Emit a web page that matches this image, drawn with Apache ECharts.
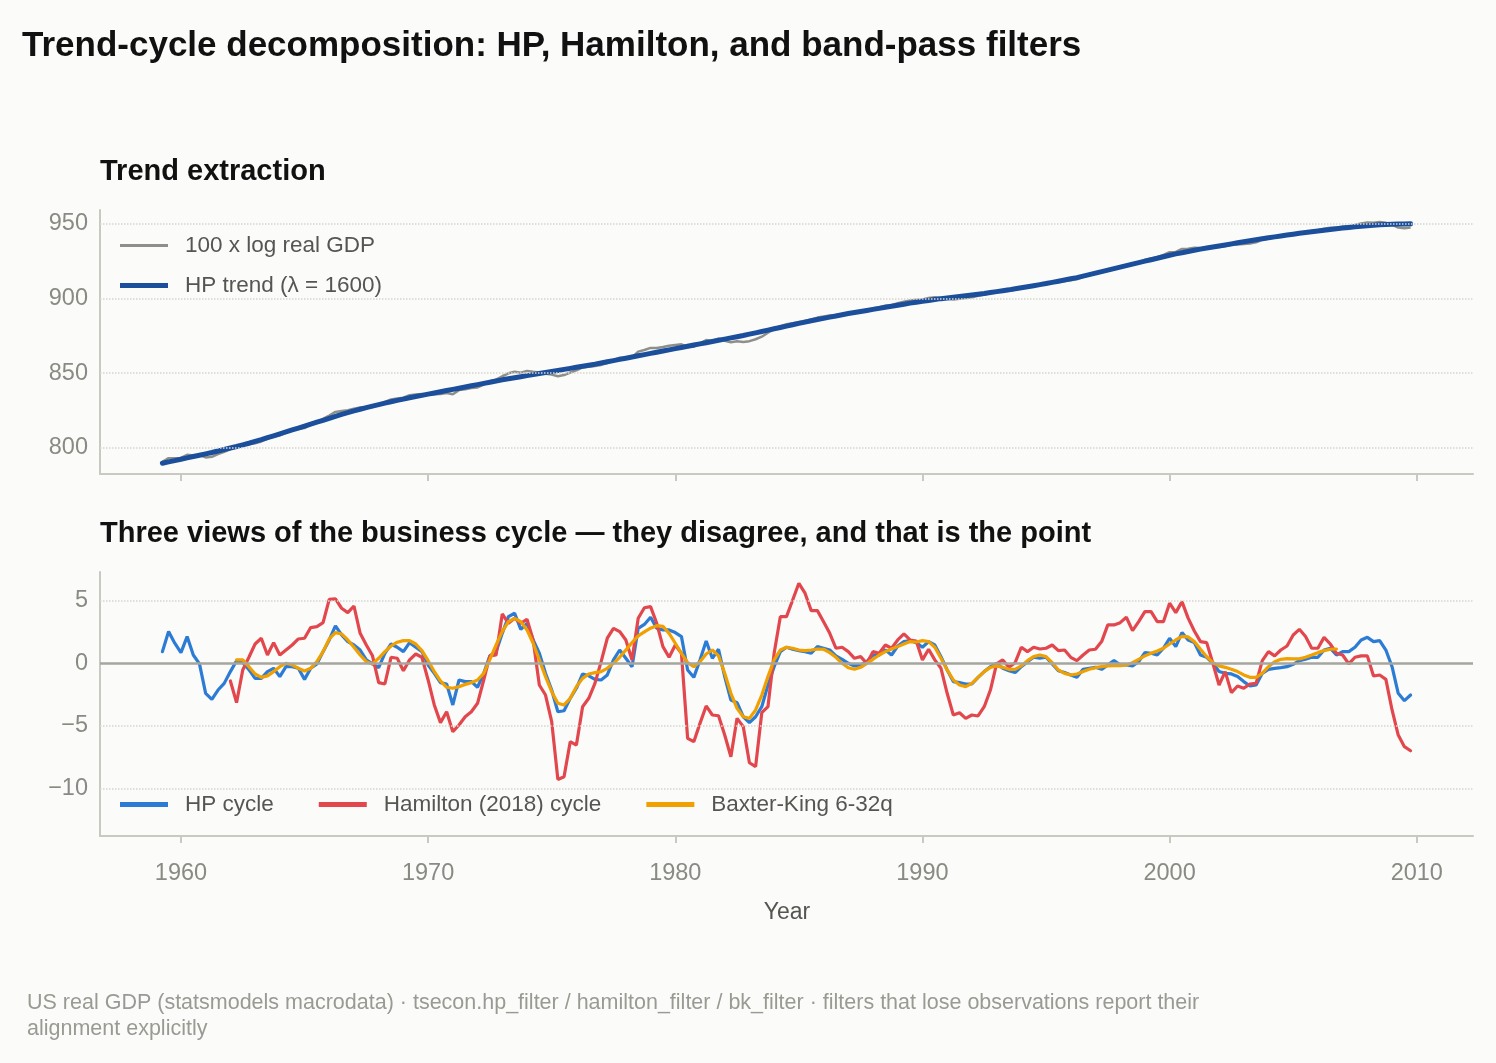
<!DOCTYPE html>
<html>
<head>
<meta charset="utf-8">
<title>Trend-cycle decomposition</title>
<script src="https://cdn.jsdelivr.net/npm/echarts@6/dist/echarts.min.js"></script>
<style>
  html, body { margin: 0; padding: 0; background: #FBFBF9; }
  #chart { width: 1496px; height: 1063px; }
</style>
</head>
<body>
<div id="chart"></div>
<script>
// US real GDP, quarterly 1959Q1 .. 2009Q3 (statsmodels macrodata)
const firstYear = 1959
const quarterCount = 203
const hamiltonOffset = 11   // first quarter with a Hamilton value
const bkOffset = 12         // Baxter-King loses 12 quarters at each end

// 100 x log real GDP
const logGdp = [
  790.5, 793.0, 793.0, 793.2, 795.3, 794.8, 795.0, 793.5, 793.9, 795.7,
  797.2, 799.1, 801.0, 802.0, 802.5, 803.0, 804.2, 806.0, 807.6, 808.2,
  810.3, 811.6, 812.8, 813.2, 815.4, 817.1, 819.3, 821.6, 824.0, 824.6,
  825.2, 826.2, 826.9, 827.2, 827.9, 828.6, 830.7, 832.3, 833.0, 833.5,
  835.2, 835.6, 836.0, 835.8, 835.9, 836.0, 836.7, 835.8, 838.6, 839.2,
  840.0, 840.4, 842.3, 844.5, 845.6, 847.9, 849.9, 850.9, 850.3, 851.5,
  850.9, 850.5, 849.6, 849.0, 847.9, 848.7, 850.4, 851.9, 853.8, 854.3,
  854.7, 855.5, 856.7, 858.7, 860.3, 860.4, 860.5, 864.4, 865.5, 866.9,
  866.8, 867.5, 868.3, 868.9, 869.3, 867.5, 867.7, 869.9, 872.2, 871.6,
  873.1, 871.7, 870.7, 871.3, 870.9, 871.4, 872.7, 874.4, 877.1, 879.4,
  881.5, 882.8, 883.5, 884.3, 885.1, 885.9, 887.2, 887.9, 888.6, 888.9,
  889.4, 889.9, 890.4, 891.2, 892.1, 893.4, 894.1, 895.2, 895.5, 896.9,
  897.9, 898.7, 899.2, 899.4, 900.4, 900.8, 900.4, 899.9, 899.4, 899.9,
  900.3, 900.8, 901.8, 902.7, 903.7, 904.6, 904.8, 905.2, 905.8, 906.9,
  908.0, 909.1, 909.7, 910.5, 910.8, 911.0, 911.7, 912.3, 912.9, 914.5,
  915.6, 916.7, 917.5, 918.9, 920.2, 920.9, 921.9, 922.8, 924.1, 925.9,
  926.8, 927.7, 929.2, 931.0, 931.2, 933.2, 933.4, 934.0, 933.8, 934.3,
  934.5, 934.5, 935.1, 935.8, 936.2, 936.5, 936.9, 937.7, 939.3, 940.2,
  940.9, 941.6, 942.2, 943.0, 943.9, 944.5, 945.2, 945.7, 946.8, 947.4,
  947.4, 948.1, 948.5, 949.3, 950.3, 950.9, 950.8, 951.2, 950.7, 949.5,
  947.5, 947.0, 947.6
]

// HP trend, lambda = 1600
const hpTrend = [
  789.6, 790.5, 791.4, 792.3, 793.2, 794.1, 795.0, 795.9, 796.8, 797.8,
  798.8, 799.8, 800.8, 801.9, 803.0, 804.2, 805.4, 806.7, 808.0, 809.3,
  810.6, 811.9, 813.2, 814.5, 815.8, 817.1, 818.4, 819.7, 821.0, 822.3,
  823.5, 824.7, 825.8, 826.9, 827.9, 828.9, 829.9, 830.8, 831.7, 832.6,
  833.5, 834.3, 835.1, 835.9, 836.7, 837.5, 838.3, 839.1, 839.9, 840.7,
  841.5, 842.3, 843.1, 843.9, 844.7, 845.5, 846.2, 846.9, 847.6, 848.3,
  849.0, 849.7, 850.4, 851.1, 851.8, 852.5, 853.2, 853.9, 854.6, 855.3,
  856.0, 856.8, 857.6, 858.4, 859.2, 860.0, 860.8, 861.6, 862.4, 863.2,
  864.0, 864.8, 865.6, 866.4, 867.2, 868.0, 868.8, 869.6, 870.4, 871.2,
  872.0, 872.8, 873.6, 874.4, 875.2, 876.1, 877.0, 877.9, 878.8, 879.7,
  880.6, 881.5, 882.4, 883.3, 884.2, 885.1, 885.9, 886.7, 887.5, 888.3,
  889.1, 889.9, 890.6, 891.3, 892.0, 892.7, 893.4, 894.1, 894.8, 895.5,
  896.2, 896.9, 897.5, 898.1, 898.7, 899.3, 899.9, 900.4, 900.9, 901.4,
  901.9, 902.4, 902.9, 903.4, 904.0, 904.6, 905.2, 905.8, 906.5, 907.2,
  907.9, 908.6, 909.3, 910.0, 910.8, 911.6, 912.4, 913.2, 914.0, 915.0,
  916.0, 917.0, 918.0, 919.0, 920.0, 921.0, 922.0, 923.0, 924.0, 925.0,
  926.0, 927.0, 928.0, 929.0, 929.9, 930.7, 931.5, 932.3, 933.1, 933.8,
  934.5, 935.2, 935.9, 936.6, 937.3, 938.0, 938.7, 939.4, 940.1, 940.7,
  941.3, 941.9, 942.5, 943.1, 943.7, 944.2, 944.7, 945.2, 945.7, 946.2,
  946.7, 947.2, 947.6, 948.0, 948.4, 948.8, 949.1, 949.4, 949.6, 949.8,
  949.9, 950.0, 950.1
]

// HP cycle (percent deviation from trend)
const hpCycle = [
  0.93, 2.53, 1.6, 0.85, 2.13, 0.66, -0.05, -2.4, -2.87, -2.13,
  -1.6, -0.66, 0.2, 0.05, -0.5, -1.2, -1.2, -0.66, -0.4, -1.06,
  -0.27, -0.27, -0.4, -1.28, -0.4, -0.05, 0.93, 1.86, 2.98, 2.26,
  1.73, 1.46, 1.06, 0.27, -0.05, -0.35, 0.8, 1.54, 1.28, 0.93,
  1.65, 1.28, 0.93, -0.13, -0.8, -1.54, -1.65, -3.32, -1.33, -1.46,
  -1.46, -1.91, -0.8, 0.59, 0.93, 2.39, 3.72, 3.99, 2.71, 3.19,
  1.86, 0.8, -0.8, -2.13, -3.86, -3.78, -2.79, -1.99, -0.85, -1.0,
  -1.28, -1.33, -0.93, 0.27, 1.06, 0.4, -0.27, 2.79, 3.1, 3.67,
  2.79, 2.66, 2.66, 2.45, 2.13, -0.53, -1.12, 0.27, 1.78, 0.4,
  1.12, -1.06, -2.93, -3.14, -4.26, -4.73, -4.26, -3.46, -1.73, -0.27,
  0.93, 1.28, 1.12, 1.01, 0.93, 0.8, 1.33, 1.2, 1.06, 0.59,
  0.32, 0, -0.21, -0.13, 0.13, 0.66, 0.66, 1.06, 0.66, 1.38,
  1.73, 1.81, 1.65, 1.28, 1.73, 1.46, 0.53, -0.53, -1.46, -1.54,
  -1.65, -1.65, -1.12, -0.66, -0.27, 0, -0.4, -0.59, -0.74, -0.27,
  0.13, 0.48, 0.4, 0.48, -0.05, -0.59, -0.74, -0.93, -1.12, -0.48,
  -0.4, -0.32, -0.48, -0.13, 0.21, -0.13, -0.13, -0.21, 0.13, 0.85,
  0.8, 0.66, 1.2, 2.0, 1.33, 2.45, 1.85, 1.65, 0.66, 0.48,
  0, -0.66, -0.8, -0.85, -1.06, -1.46, -1.81, -1.73, -0.8, -0.48,
  -0.4, -0.35, -0.27, -0.08, 0.21, 0.32, 0.48, 0.48, 1.06, 1.2,
  0.66, 0.93, 0.93, 1.28, 1.86, 2.07, 1.73, 1.81, 1.06, -0.27,
  -2.39, -2.98, -2.53
]

// Hamilton (2018) regression cycle, starts 1961Q4
const hamiltonCycle = [
  -1.41, -3.14, -0.53, 0.48, 1.54, 2.0, 0.66, 1.65, 0.66,
  1.06, 1.46, 1.94, 2.0, 2.85, 2.93, 3.24, 5.1, 5.13, 4.39,
  4.04, 4.57, 2.39, 1.46, 0.6, -1.54, -1.65, 0.48, 0.4, -0.59,
  0.27, 0.74, 0.48, -1.33, -3.32, -4.73, -3.86, -5.45, -4.92, -4.26,
  -3.86, -3.19, -1.33, 0.59, 0.66, 3.94, 3.19, 3.59, 3.19, 3.51,
  1.86, -1.73, -2.53, -4.65, -9.26, -9.04, -6.25, -6.52, -3.46, -2.79,
  -1.6, 0.13, 2.0, 2.79, 2.53, 1.86, 0.27, 3.59, 4.43, 4.52,
  3.19, 1.33, 0.48, 1.46, 0.8, -5.98, -6.25, -4.79, -3.4, -4.12,
  -4.18, -5.72, -7.45, -4.39, -5.05, -7.93, -8.24, -3.94, -3.46, 0.8,
  3.72, 3.72, 5.05, 6.38, 5.59, 4.2, 4.2, 3.32, 2.39, 1.2,
  1.28, 0.93, 0.4, 0.53, 0, 0.93, 0.8, 1.46, 1.2, 1.86,
  2.34, 1.86, 1.78, 0.27, 1.12, 0.27, -0.4, -2.39, -4.12, -3.94,
  -4.39, -4.12, -4.2, -3.46, -2.13, -0.05, 0.27, -0.32, 0.05, 1.28,
  0.93, 1.28, 1.14, 1.2, 1.46, 1.01, 1.06, 0.48, 0.21, 0.66,
  1.06, 1.12, 1.73, 3.06, 3.06, 3.24, 3.67, 2.61, 3.32, 4.12,
  4.12, 3.32, 3.32, 4.79, 4.04, 4.92, 3.6, 2.58, 1.73, 1.65,
  0, -1.73, -0.66, -2.34, -1.81, -1.99, -1.65, -1.6, 0.21, 0.93,
  0.59, 1.06, 1.38, 2.26, 2.71, 2.13, 1.2, 1.2, 2.07, 1.54,
  0.8, 0.66, -0.05, 0.48, 0.59, 0.59, -1.01, -0.93, -1.28, -3.72,
  -5.72, -6.65, -6.97
]

// Baxter-King band-pass (6-32 quarters), 1962Q1 .. 2006Q3
const bkCycle = [
  0.27, 0.27, -0.27, -0.85, -1.12, -1.0, -0.66, -0.27,
  0, -0.13, -0.4, -0.61, -0.4, 0.13, 0.93, 1.94, 2.45, 2.34,
  1.86, 1.28, 0.66, 0.13, -0.05, 0.4, 0.93, 1.38, 1.68, 1.81,
  1.81, 1.54, 1.01, 0.21, -0.66, -1.41, -1.91, -1.99, -1.86, -1.68,
  -1.54, -1.33, -0.8, 0.32, 1.46, 2.53, 3.32, 3.59, 3.32, 2.66,
  1.6, 0.27, -1.06, -2.26, -3.19, -3.32, -2.79, -1.86, -1.2, -0.85,
  -0.74, -0.66, -0.4, 0, 0.48, 1.06, 1.65, 2.18, 2.5, 2.8,
  3.0, 2.95, 2.39, 1.6, 0.8, 0.05, -0.27, 0.13, 0.74, 1.06,
  0.59, -0.8, -2.39, -3.59, -4.26, -4.39, -3.72, -2.53, -1.06, 0.27,
  1.06, 1.28, 1.2, 1.06, 1.01, 1.06, 1.14, 1.12, 0.85, 0.48,
  0, -0.35, -0.48, -0.32, 0, 0.32, 0.66, 0.93, 1.14, 1.33,
  1.54, 1.73, 1.7, 1.81, 1.73, 1.28, 0.4, -0.53, -1.33, -1.73,
  -1.86, -1.6, -1.12, -0.66, -0.32, -0.21, -0.32, -0.48, -0.48, -0.21,
  0.21, 0.53, 0.66, 0.53, 0.05, -0.53, -0.8, -0.93, -0.85, -0.66,
  -0.48, -0.35, -0.27, -0.21, -0.19, -0.19, -0.13, 0.05, 0.32, 0.59,
  0.8, 0.98, 1.2, 1.54, 1.86, 2.15, 2.1, 1.73, 1.12, 0.53,
  0.05, -0.21, -0.32, -0.48, -0.66, -0.93, -1.12, -1.12, -0.8, -0.27,
  0.13, 0.32, 0.37, 0.35, 0.35, 0.48, 0.66, 0.85, 1.01, 1.12,
  1.14
]

const decadeTicks = [1960, 1970, 1980, 1990, 2000, 2010]
const levelTicks = [800, 850, 900, 950]
const cycleTicks = [-10, -5, 5]

// quarter-end dates as decimal years
const dates = []
for (let i = 0; i < quarterCount; i++) dates.push(firstYear + (i + 1) / 4)

const pairs = (values, offset = 0) => values.map((v, i) => [dates[i + offset], v])

const FONT = '"Liberation Sans", Arial, Helvetica, sans-serif'
const AXIS_COLOR = '#C9C9C1'
const LABEL_COLOR = '#8A8A84'
const TEXT_COLOR = '#555552'
const gridLine = { type: 'dotted', color: '#D6D6D0', width: 1.5 }
const minus = v => (v < 0 ? '\u2212' + Math.abs(v) : String(v))

// legend swatches: flat bars instead of line + symbol
const thickSwatch = 'path://M0 0H48V5H0Z'
const thinSwatch = 'path://M0 0H48V3H0Z'

const xAxisBase = (gridIndex, showLabels) => ({
  gridIndex,
  type: 'value',
  min: 1956.725,
  max: 2012.275,
  axisLine: { show: true, onZero: false, lineStyle: { color: AXIS_COLOR, width: 2 } },
  axisTick: { show: true, customValues: decadeTicks, length: 7, lineStyle: { color: AXIS_COLOR, width: 2 } },
  axisLabel: {
    show: showLabels, customValues: decadeTicks, formatter: v => String(v),
    color: LABEL_COLOR, fontSize: 23.5, fontFamily: FONT, margin: 26
  },
  splitLine: { show: false }
})

const yLabel = {
  color: LABEL_COLOR, fontSize: 23.5, fontFamily: FONT, margin: 12, padding: [4, 0, 0, 0]
}

const chart = echarts.init(document.getElementById('chart'))

const option = {
  backgroundColor: '#FBFBF9',
  animation: false,
  textStyle: { fontFamily: FONT },
  grid: [
    { left: 100, right: 23, top: 210, height: 264 },
    { left: 100, right: 23, top: 572, height: 264 }
  ],
  xAxis: [xAxisBase(0, false), xAxisBase(1, true)],
  yAxis: [
    {
      gridIndex: 0, type: 'value', min: 782.4, max: 959.3,
      axisLine: { show: true, lineStyle: { color: AXIS_COLOR, width: 2 } },
      axisTick: { show: false },
      axisLabel: { ...yLabel, customValues: levelTicks },
      splitLine: { show: false }
    },
    {
      gridIndex: 1, type: 'value', min: -13.77, max: 7.28,
      axisLine: { show: true, onZero: false, lineStyle: { color: AXIS_COLOR, width: 2 } },
      axisTick: { show: false },
      axisLabel: { ...yLabel, customValues: [-10, -5, 0, 5], formatter: minus },
      splitLine: { show: false }
    }
  ],
  legend: [
    {
      left: 120, top: 234, orient: 'vertical', padding: 0,
      itemWidth: 48, itemHeight: 22, itemGap: 17,
      textStyle: { color: TEXT_COLOR, fontSize: 22.5, fontFamily: FONT, padding: [0, 0, 0, 12] },
      data: [
        { name: '100 x log real GDP', icon: thinSwatch },
        { name: 'HP trend (\u03bb = 1600)', icon: thickSwatch }
      ]
    },
    {
      left: 120, top: 793, orient: 'horizontal', padding: 0,
      itemWidth: 48, itemHeight: 22, itemGap: 45,
      textStyle: { color: TEXT_COLOR, fontSize: 22.5, fontFamily: FONT, padding: [0, 0, 0, 12] },
      data: [
        { name: 'HP cycle', icon: thickSwatch },
        { name: 'Hamilton (2018) cycle', icon: thickSwatch },
        { name: 'Baxter-King 6-32q', icon: thickSwatch }
      ]
    }
  ],
  series: [
    {
      name: '100 x log real GDP', type: 'line', xAxisIndex: 0, yAxisIndex: 0,
      data: pairs(logGdp), symbol: 'none',
      lineStyle: { color: '#8E8E8A', width: 2.5 }, itemStyle: { color: '#8E8E8A' },
      markLine: {
        silent: true, symbol: ['none', 'none'], label: { show: false },
        lineStyle: gridLine,
        data: levelTicks.map(v => ({ yAxis: v }))
      }
    },
    {
      name: 'HP trend (\u03bb = 1600)', type: 'line', xAxisIndex: 0, yAxisIndex: 0,
      data: pairs(hpTrend), symbol: 'none',
      lineStyle: { color: '#1B4F9C', width: 5, cap: 'round' }, itemStyle: { color: '#1B4F9C' }
    },
    {
      name: 'HP cycle', type: 'line', xAxisIndex: 1, yAxisIndex: 1,
      data: pairs(hpCycle), symbol: 'none',
      lineStyle: { color: '#2C7BD4', width: 3.2, cap: 'round' }, itemStyle: { color: '#2C7BD4' },
      markLine: {
        silent: true, symbol: ['none', 'none'], label: { show: false },
        data: [
          ...cycleTicks.map(v => ({ yAxis: v, lineStyle: gridLine })),
          { yAxis: 0, lineStyle: { type: 'solid', color: '#A6A69E', width: 2.5 } }
        ]
      }
    },
    {
      name: 'Hamilton (2018) cycle', type: 'line', xAxisIndex: 1, yAxisIndex: 1,
      data: pairs(hamiltonCycle, hamiltonOffset), symbol: 'none',
      lineStyle: { color: '#E2474D', width: 3.2, cap: 'round' }, itemStyle: { color: '#E2474D' }
    },
    {
      name: 'Baxter-King 6-32q', type: 'line', xAxisIndex: 1, yAxisIndex: 1,
      data: pairs(bkCycle, bkOffset), symbol: 'none',
      lineStyle: { color: '#F0A000', width: 3.2, cap: 'round' }, itemStyle: { color: '#F0A000' }
    }
  ],
  graphic: [
    {
      type: 'text', x: 22, y: 46,
      style: {
        text: 'Trend-cycle decomposition: HP, Hamilton, and band-pass filters',
        fill: '#111111', font: 'bold 35px ' + FONT,
        textAlign: 'left', textVerticalAlign: 'middle', align: 'left', verticalAlign: 'middle'
      }
    },
    {
      type: 'text', x: 100, y: 172,
      style: {
        text: 'Trend extraction', fill: '#111111', font: 'bold 29px ' + FONT,
        textAlign: 'left', textVerticalAlign: 'middle', align: 'left', verticalAlign: 'middle'
      }
    },
    {
      type: 'text', x: 100, y: 534,
      style: {
        text: 'Three views of the business cycle \u2014 they disagree, and that is the point',
        fill: '#111111', font: 'bold 29px ' + FONT,
        textAlign: 'left', textVerticalAlign: 'middle', align: 'left', verticalAlign: 'middle'
      }
    },
    {
      type: 'text', x: 787, y: 913,
      style: {
        text: 'Year', fill: TEXT_COLOR, font: '23px ' + FONT,
        textAlign: 'center', textVerticalAlign: 'middle', align: 'center', verticalAlign: 'middle'
      }
    },
    {
      type: 'text', x: 27, y: 1003,
      style: {
        text: 'US real GDP (statsmodels macrodata) \u00b7 tsecon.hp_filter / hamilton_filter / bk_filter \u00b7 filters that lose observations report their',
        fill: '#9A9A94', font: '21.5px ' + FONT,
        textAlign: 'left', textVerticalAlign: 'middle', align: 'left', verticalAlign: 'middle'
      }
    },
    {
      type: 'text', x: 27, y: 1029,
      style: {
        text: 'alignment explicitly', fill: '#9A9A94', font: '21.5px ' + FONT,
        textAlign: 'left', textVerticalAlign: 'middle', align: 'left', verticalAlign: 'middle'
      }
    }
  ]
}

chart.setOption(option)
window.addEventListener('resize', () => chart.resize())
</script>
</body>
</html>
